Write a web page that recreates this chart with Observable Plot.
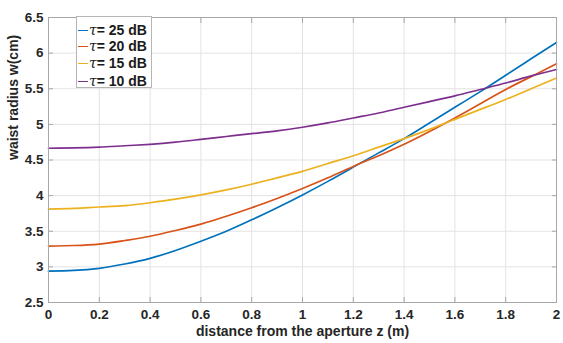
<!DOCTYPE html>
<html><head><meta charset="utf-8">
<script src="https://cdn.jsdelivr.net/npm/d3@7"></script>
<script src="https://cdn.jsdelivr.net/npm/@observablehq/plot@0.6"></script>
<style>
body{margin:0;background:#fff;font-family:"Liberation Sans",Arial,sans-serif;}
#wrap{position:relative;width:563px;height:343px;}
.legend{position:absolute;left:76px;top:16px;width:76px;height:72px;border:1px solid #b5b5b5;background:#fff;box-sizing:border-box;font-weight:bold;font-size:14px;color:#1a1a1a;}
.row{position:absolute;left:0;height:16px;line-height:16px;white-space:nowrap;}
.sw{position:absolute;left:1px;top:8px;width:10px;height:0;border-top:1.6px solid;}
.lab{position:absolute;left:12px;top:0;}
.lab i{font-family:"DejaVu Serif",serif;font-weight:normal;font-style:italic;}
</style>
</head><body>
<div id="wrap"></div>
<script>
const z = [0,0.1,0.2,0.3,0.4,0.5,0.6,0.7,0.8,0.9,1.0,1.1,1.2,1.3,1.4,1.5,1.6,1.7,1.8,1.9,2.0];
const tau25 = [2.94,2.95,2.98,3.04,3.12,3.23,3.36,3.50,3.66,3.83,4.01,4.20,4.40,4.60,4.80,5.02,5.24,5.46,5.69,5.92,6.15];
const tau20 = [3.29,3.30,3.32,3.37,3.43,3.51,3.60,3.71,3.83,3.96,4.10,4.25,4.41,4.56,4.72,4.90,5.09,5.29,5.49,5.67,5.85];
const tau15 = [3.81,3.82,3.84,3.86,3.90,3.95,4.01,4.08,4.16,4.25,4.34,4.45,4.56,4.68,4.80,4.93,5.07,5.21,5.35,5.50,5.65];
const tau10 = [4.665,4.67,4.68,4.70,4.72,4.75,4.79,4.83,4.87,4.91,4.96,5.02,5.09,5.16,5.24,5.32,5.40,5.49,5.58,5.68,5.77];
const seriesNames = ["τ= 25 dB","τ= 20 dB","τ= 15 dB","τ= 10 dB"];
const seriesColors = ["#0072BD","#D95319","#EDB120","#7E2F8E"];
const xTicks = [0,0.2,0.4,0.6,0.8,1,1.2,1.4,1.6,1.8,2];
const yTicks = [2.5,3,3.5,4,4.5,5,5.5,6,6.5];
const xLabel = "distance from the aperture z (m)";
const yLabel = "waist radius w(cm)";

const allSeries = [tau25,tau20,tau15,tau10];
const data = allSeries.flatMap((vals,si)=>vals.map((w,i)=>({z:z[i], w, s:seriesNames[si]})));
const fmt = d => String(d);

const chart = Plot.plot({
  width:563, height:343,
  marginLeft:48, marginRight:7, marginTop:17, marginBottom:41,
  x:{domain:[0,2]},
  y:{domain:[2.5,6.5]},
  color:{domain:seriesNames, range:seriesColors},
  style:{fontFamily:"'Liberation Sans', Arial, sans-serif", fontWeight:"bold", fontSize:"13.5px", color:"#262626", background:"#fff", overflow:"visible"},
  marks:[
    Plot.gridX(xTicks, {stroke:"#e3e3e3", strokeOpacity:1}),
    Plot.gridY(yTicks, {stroke:"#e3e3e3", strokeOpacity:1}),
    Plot.line(data, {x:"z", y:"w", z:"s", stroke:"s", strokeWidth:1.7, curve:"natural"}),
    Plot.frame({stroke:"#a8a8a8"}),
    Plot.axisX(xTicks, {anchor:"bottom", tickSize:-5, tickPadding:12, stroke:"#a8a8a8", tickFormat:fmt, label:null, fontSize:13.5}),
    Plot.axisX(xTicks, {anchor:"top", tickSize:-5, stroke:"#a8a8a8", tickFormat:()=>"", label:null}),
    Plot.axisY(yTicks, {anchor:"left", tickSize:-5, tickPadding:10, stroke:"#a8a8a8", tickFormat:fmt, label:null, fontSize:13.5}),
    Plot.axisY(yTicks, {anchor:"right", tickSize:-5, stroke:"#a8a8a8", tickFormat:()=>"", label:null}),
    Plot.text([xLabel], {text:d=>d, frameAnchor:"bottom", dy:33, fontSize:14, fontWeight:"bold", fill:"#262626"}),
    Plot.text([yLabel], {text:d=>d, frameAnchor:"left", dx:-35, rotate:-90, fontSize:14, fontWeight:"bold", fill:"#262626"})
  ]
});
const wrap = document.getElementById("wrap");
wrap.appendChild(chart);

const leg = document.createElement("div");
leg.className = "legend";
const rowTops = [5,21,38,56];
seriesNames.forEach((n,i)=>{
  const r = document.createElement("div");
  r.className="row"; r.style.top = rowTops[i]+"px";
  const sw = document.createElement("div"); sw.className="sw"; sw.style.borderTopColor = seriesColors[i];
  const lb = document.createElement("div"); lb.className="lab";
  lb.innerHTML = "<i>" + n.slice(0,1) + "</i>" + n.slice(1);
  r.appendChild(sw); r.appendChild(lb); leg.appendChild(r);
});
wrap.appendChild(leg);
</script>
</body></html>
